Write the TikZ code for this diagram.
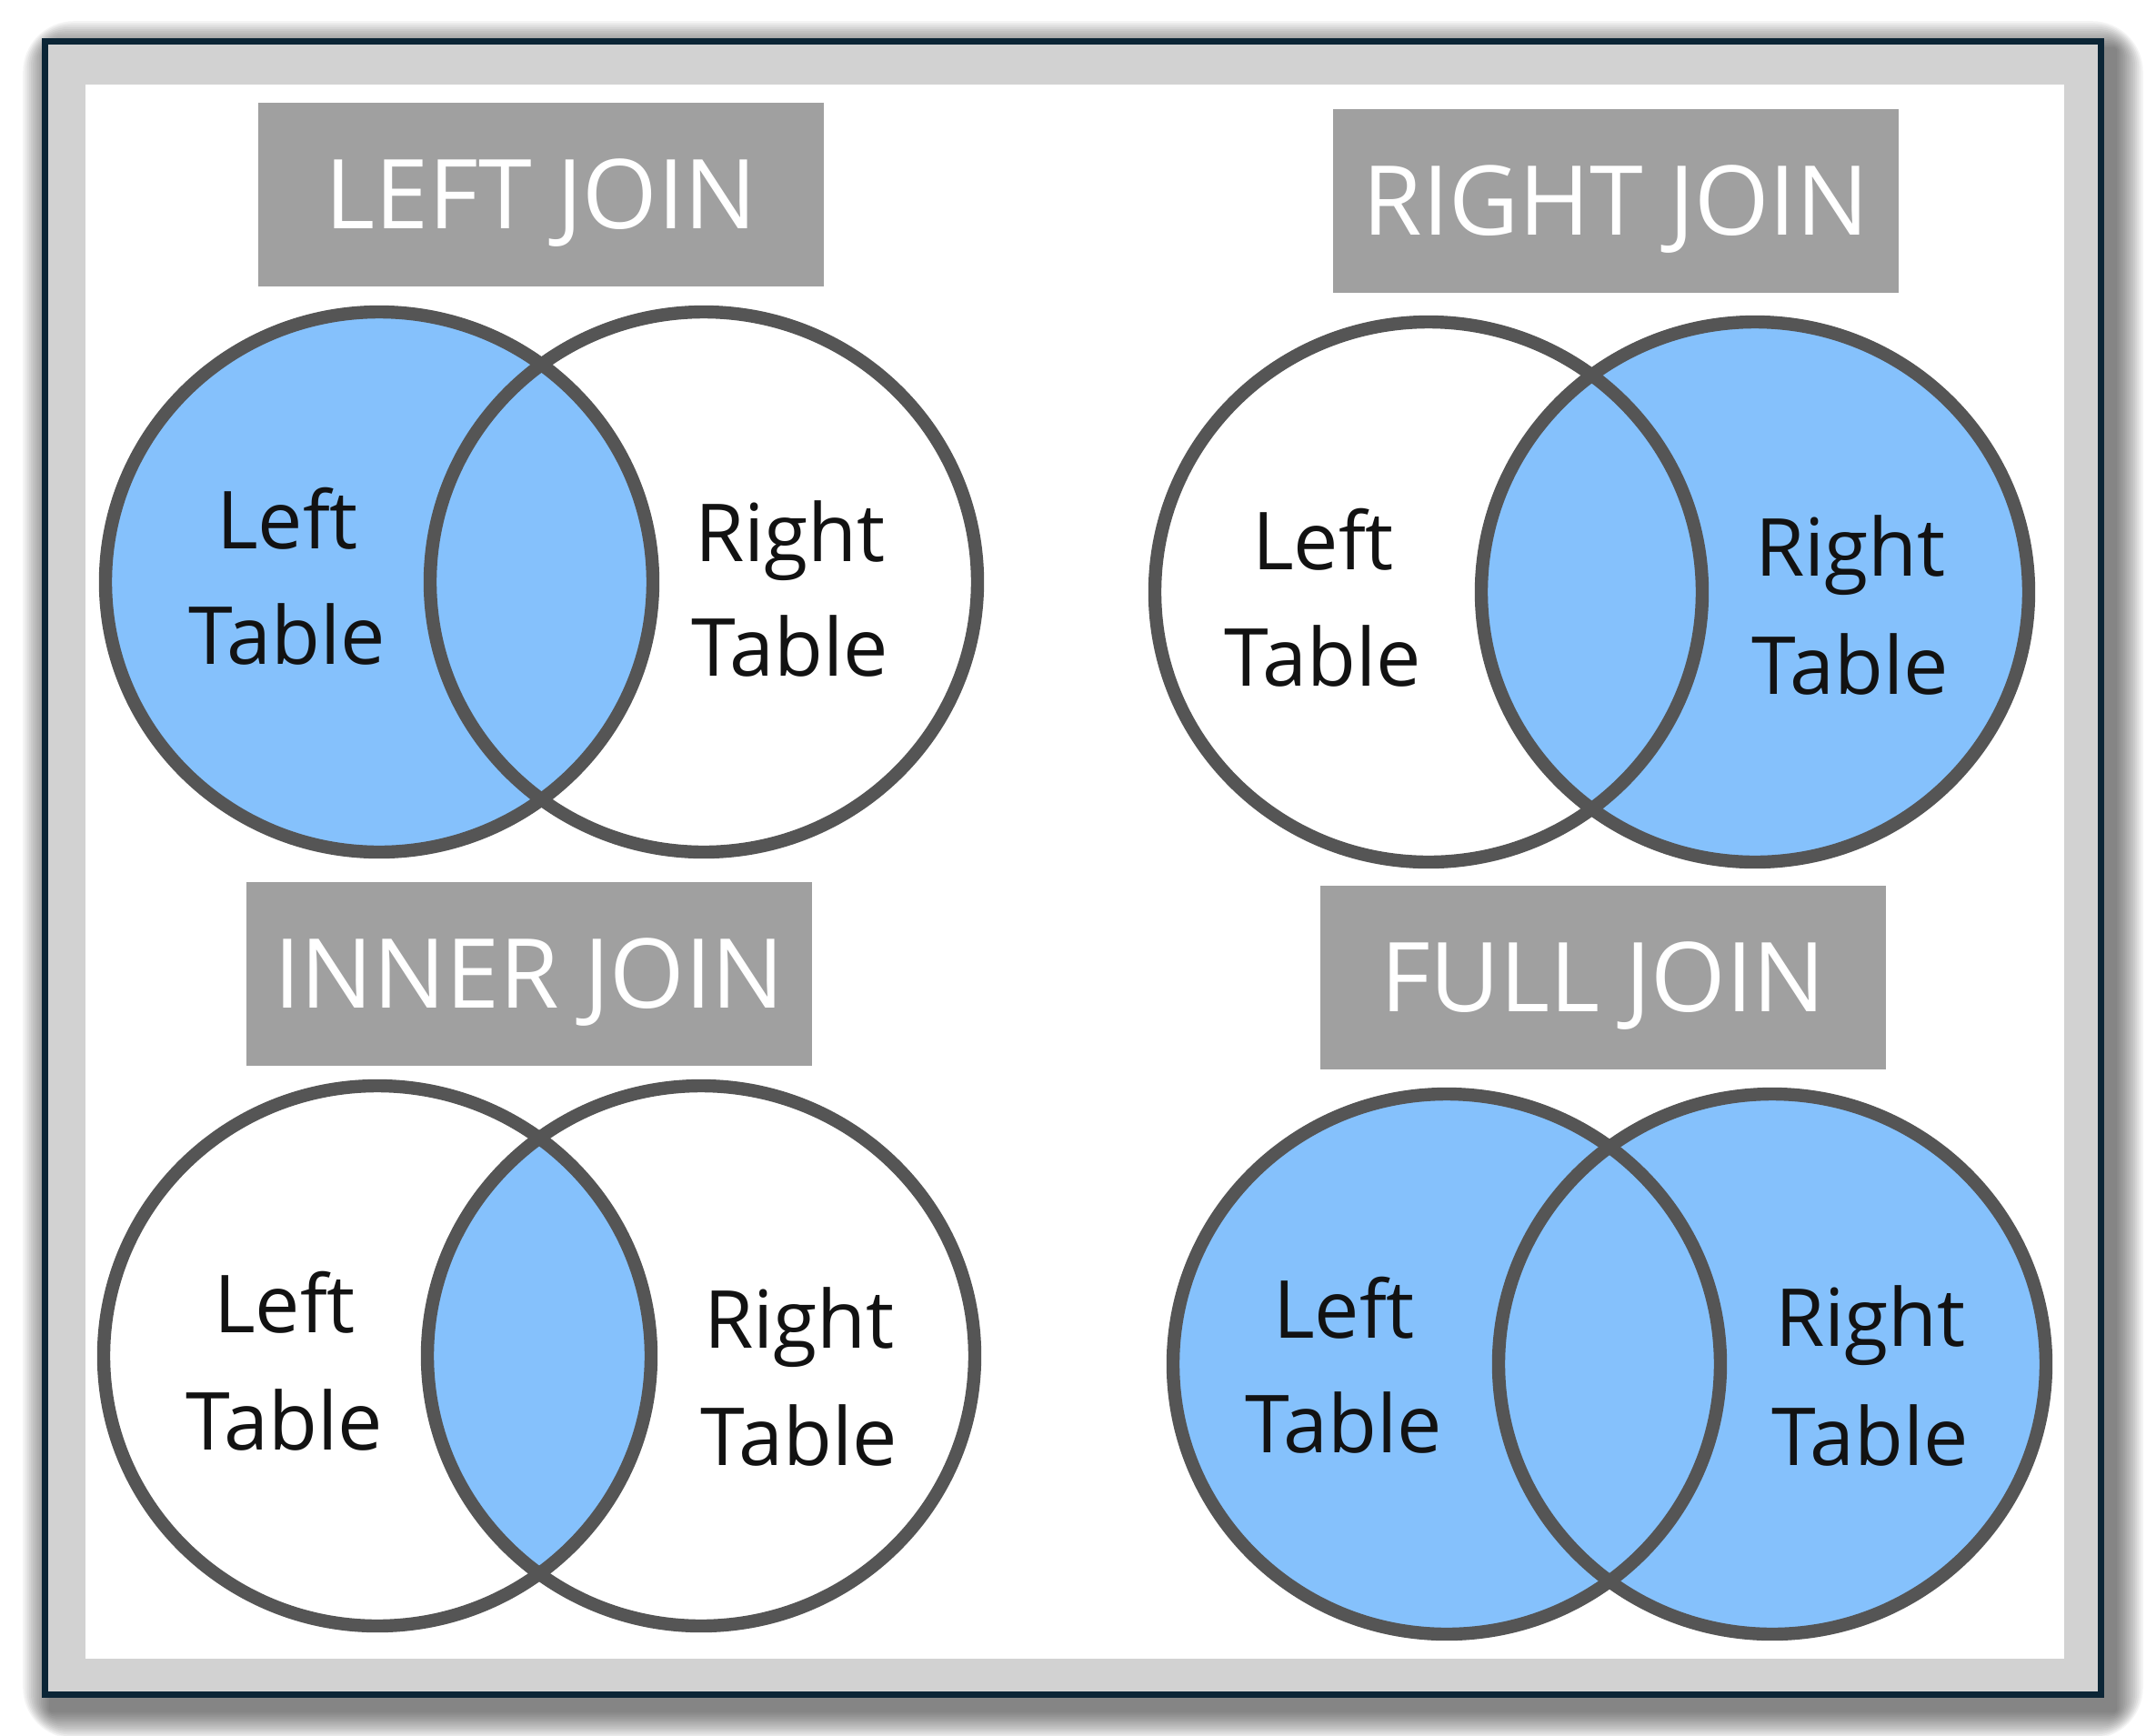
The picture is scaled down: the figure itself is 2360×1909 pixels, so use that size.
\documentclass[tikz,border=0pt]{standalone}
\usepackage{fontspec}
\setmainfont{Open Sans}
\definecolor{vennblue}{HTML}{85C1FC}
\definecolor{ringgray}{HTML}{555555}
\definecolor{titlegray}{HTML}{A0A0A0}
\definecolor{framedark}{HTML}{0B2536}
\definecolor{framegray}{HTML}{D2D2D2}
\begin{document}
\begin{tikzpicture}[x=0.25pt,y=-0.25pt,
  vsize/.style={x radius=75.25pt,y radius=74.25pt},
  ring/.style={draw=ringgray,line width=3.6pt},
  venfill/.style={fill=vennblue},
  titlebox/.style={fill=titlegray,text=white,minimum width=155.5pt,minimum height=50.5pt,
    inner sep=0pt,text height=18.9pt,text depth=0pt,font=\fontsize{26.5}{30}\selectfont},
  lbl/.style={anchor=base,inner sep=0pt,text=black!93,font=\fontsize{22}{26}\selectfont}]
\useasboundingbox (0,0) rectangle (2360,1909);
\fill[white] (0,0) rectangle (2360,1909);
% shadow
\foreach \i in {1,...,14}{
  \fill[black,opacity=0.045,rounded corners=\i pt] (46+10-\i*2.2,42+12-\i*2.2) rectangle (2314+12+\i*2.2,1867+14+\i*2.2);
}
% frame
\fill[framedark] (46,42) rectangle (2314,1867);
\fill[framegray] (53,49) rectangle (2307,1860);
\fill[white] (94,93) rectangle (2270,1824);

% ---------- LEFT JOIN ----------
\coordinate (lA) at (417,640);
\coordinate (lB) at (774,640);
\fill[venfill] (lA) ellipse[vsize];
\draw[ring] (lA) ellipse[vsize];
\draw[ring] (lB) ellipse[vsize];
\node[titlebox] (tleft) at (595,214) {LEFT JOIN};
\node[lbl] (l1) at (316,603) {Left};
\node[lbl] (l2) at (316,730) {Table};
\node[lbl] (l3) at (869,617) {Right};
\node[lbl] (l4) at (869,743) {Table};

% ---------- RIGHT JOIN ----------
\coordinate (rA) at (1571,651);
\coordinate (rB) at (1930,651);
\fill[venfill] (rB) ellipse[vsize];
\draw[ring] (rA) ellipse[vsize];
\draw[ring] (rB) ellipse[vsize];
\node[titlebox] (tright) at (1777,221) {RIGHT JOIN};
\node[lbl] (r1) at (1455,626) {Left};
\node[lbl] (r2) at (1455,754) {Table};
\node[lbl] (r3) at (2035,633) {Right};
\node[lbl] (r4) at (2035,763) {Table};

% ---------- INNER JOIN ----------
\coordinate (iA) at (415,1491);
\coordinate (iB) at (771,1491);
\begin{scope}
  \clip (iA) ellipse[vsize];
  \fill[venfill] (iB) ellipse[vsize];
\end{scope}
\draw[ring] (iA) ellipse[vsize];
\draw[ring] (iB) ellipse[vsize];
\node[titlebox] (tinner) at (582,1071) {INNER JOIN};
\node[lbl] (i1) at (313,1465) {Left};
\node[lbl] (i2) at (313,1594) {Table};
\node[lbl] (i3) at (879,1482) {Right};
\node[lbl] (i4) at (879,1611) {Table};

% ---------- FULL JOIN ----------
\coordinate (fA) at (1591,1500);
\coordinate (fB) at (1949,1500);
\fill[venfill] (fA) ellipse[vsize];
\fill[venfill] (fB) ellipse[vsize];
\draw[ring] (fA) ellipse[vsize];
\draw[ring] (fB) ellipse[vsize];
\node[titlebox] (tfull) at (1763,1075) {FULL JOIN};
\node[lbl] (f1) at (1478,1471) {Left};
\node[lbl] (f2) at (1478,1597) {Table};
\node[lbl] (f3) at (2057,1480) {Right};
\node[lbl] (f4) at (2057,1611) {Table};
\end{tikzpicture}
\end{document}
